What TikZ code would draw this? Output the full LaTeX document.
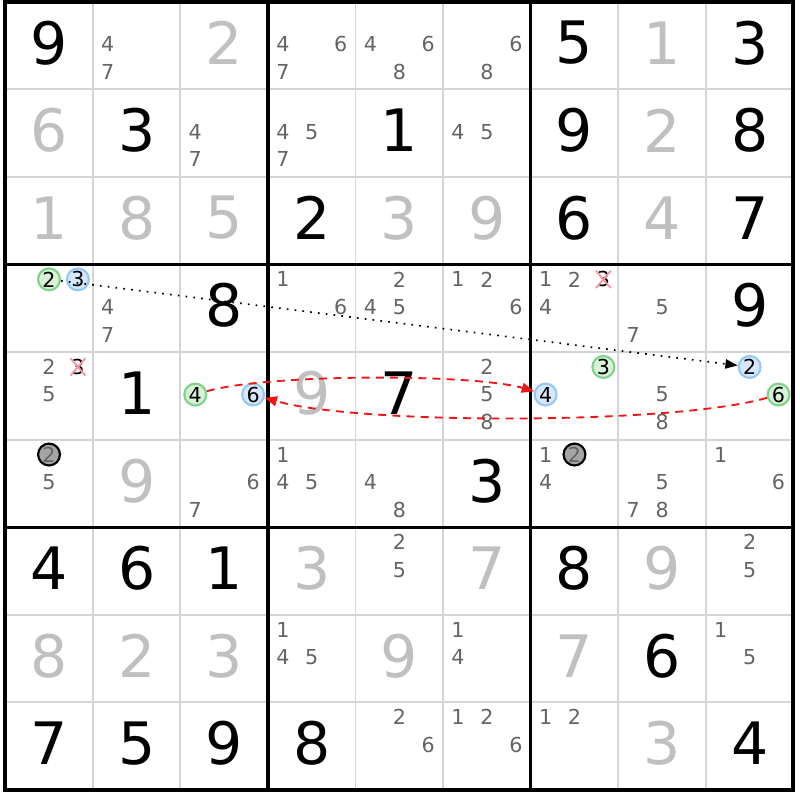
\documentclass[tikz,border=0pt]{standalone}
\usepackage{fontspec}
\setmainfont{DejaVu Sans}
\usepackage{tikz}
\usetikzlibrary{arrows.meta, shapes.misc}

\definecolor{solvedgray}{RGB}{192,192,192}
\definecolor{candgray}{RGB}{100,100,100}
\definecolor{gridgray}{RGB}{212,212,212}
\definecolor{onblue}{RGB}{150,200,245}
\definecolor{onbluefill}{RGB}{215,232,252}
\definecolor{offgreen}{RGB}{130,210,140}
\definecolor{offgreenfill}{RGB}{215,242,215}
\definecolor{elimgray}{RGB}{165,165,165}
\definecolor{strikepink}{RGB}{245,150,160}
\definecolor{linkred}{RGB}{240,20,20}

\begin{document}
\begin{tikzpicture}[x=1cm, y=1cm,
    big/.style={font=\fontsize{19}{19}\selectfont, inner sep=0pt},
    given/.style={big, text=black},
    solved/.style={big, text=solvedgray},
    cand/.style={font=\fontsize{6.7}{6.7}\selectfont, text=candgray, inner sep=0pt},
    marked/.style={cand, text=black, circle, minimum size=0.25cm, line width=0.7pt},
    oncand/.style={marked, draw=onblue, fill=onbluefill},
    offcand/.style={marked, draw=offgreen, fill=offgreenfill},
    elimcand/.style={marked, text=candgray, draw=black, fill=elimgray},
    struck/.style={cand, text=black, cross out, draw=strikepink, line width=0.6pt, minimum size=0.14cm},
    thinline/.style={draw=gridgray, line width=0.6pt},
    boxline/.style={draw=black, line width=1pt},
    chainlink/.style={linkred, line width=0.6pt, dash pattern=on 2.6pt off 2pt, -{Triangle[length=4pt,width=3.2pt]}},
    weaklink/.style={black, line width=0.55pt, dotted, -{Triangle[length=4pt,width=3pt]}}
  ]
  \useasboundingbox (-0.06,-0.115) rectangle (9.07,9.02);

  % grid
  \foreach \i in {1,...,8} {
    \draw[thinline] (\i,0) -- (\i,9);
    \draw[thinline] (0,\i) -- (9,\i);
  }
  \foreach \i in {3,6} {
    \draw[boxline] (\i,0) -- (\i,9);
    \draw[boxline] (0,\i) -- (9,\i);
  }
  \draw[boxline, line width=1.3pt] (0,0) rectangle (9,9);

  % row/column/value
  \foreach \r/\c/\v in {1/1/9, 1/7/5, 1/9/3, 2/2/3, 2/5/1, 2/7/9, 2/9/8, 3/4/2, 3/7/6,
      3/9/7, 4/3/8, 4/9/9, 5/2/1, 5/5/7, 6/6/3, 7/1/4, 7/2/6, 7/3/1, 7/7/8, 8/8/6,
      9/1/7, 9/2/5, 9/3/9, 9/4/8, 9/9/4}
    \node[given] (g\r\c) at ({\c-0.5},{9.53-\r}) {\v};
  \foreach \r/\c/\v in {1/3/2, 1/8/1, 2/1/6, 2/8/2, 3/1/1, 3/2/8, 3/3/5, 3/5/3, 3/6/9,
      3/8/4, 5/4/9, 6/2/9, 7/4/3, 7/6/7, 7/8/9, 8/1/8, 8/2/2, 8/3/3, 8/5/9, 8/7/7, 9/8/3}
    \node[solved] (s\r\c) at ({\c-0.5},{9.53-\r}) {\v};

  % candidates
  \foreach \r/\c/\list in {1/2/{4,7}, 1/4/{4,6,7}, 1/5/{4,6,8}, 1/6/{6,8}, 2/3/{4,7},
      2/4/{4,5,7}, 2/6/{4,5}, 4/2/{4,7}, 4/4/{1,6}, 4/5/{2,4,5}, 4/6/{1,2,6},
      4/7/{1,2,4}, 4/8/{5,7}, 5/1/{2,5}, 5/6/{2,5,8}, 5/8/{5,8}, 6/1/{5}, 6/3/{6,7},
      6/4/{1,4,5}, 6/5/{4,8}, 6/7/{1,4}, 6/8/{5,7,8}, 6/9/{1,6}, 7/5/{2,5}, 7/9/{2,5},
      8/4/{1,4,5}, 8/6/{1,4}, 8/9/{1,5}, 9/5/{2,6}, 9/6/{1,2,6}, 9/7/{1,2}} {
    \foreach \d in \list {
      \pgfmathsetmacro\cx{\c-1+0.17+0.33*mod(\d-1,3)}
      \pgfmathsetmacro\cy{10-\r-0.17-0.315*floor((\d-1)/3)}
      \node[cand] (c\r\c\d) at (\cx,\cy) {\d};
    }
  }
  \foreach \r/\c/\d/\s in {4/1/2/offcand, 4/1/3/oncand, 4/7/3/struck, 5/1/3/struck,
      5/3/4/offcand, 5/3/6/oncand, 5/7/3/offcand, 5/7/4/oncand, 5/9/2/oncand,
      5/9/6/offcand, 6/1/2/elimcand, 6/7/2/elimcand} {
    \pgfmathsetmacro\cx{\c-1+0.17+0.33*mod(\d-1,3)}
    \pgfmathsetmacro\cy{10-\r-0.17-0.315*floor((\d-1)/3)}
    \node[\s] (c\r\c\d) at (\cx,\cy) {\d};
  }

  % links
  \draw[weaklink] (c412) -- (c592);
  \draw[chainlink] (c534) to[bend left=16, looseness=0.5] (c574);
  \draw[chainlink] (c596) to[bend left=16, looseness=0.5] (c536);
\end{tikzpicture}
\end{document}
